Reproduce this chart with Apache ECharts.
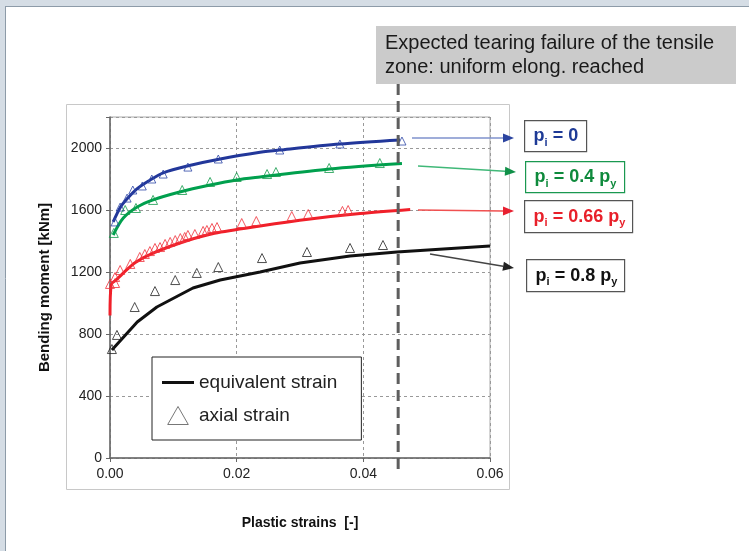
<!DOCTYPE html>
<html>
<head>
<meta charset="utf-8">
<script src="https://cdn.jsdelivr.net/npm/echarts@6/dist/echarts.min.js"></script>
<style>
  html, body { margin: 0; padding: 0; background: #fff; }
  #chart { width: 749px; height: 551px; }
</style>
</head>
<body>
<div id="chart"></div>
<script>
// 等效应变曲线 (equivalent strain) - [plastic strain, moment kNm]
const lineP0 = [[0.0005,1523],[0.0016,1615],[0.0027,1672],[0.0043,1738],[0.0063,1792],[0.0084,1840],[0.0122,1884],[0.0174,1929],[0.0237,1972],[0.0268,1987],[0.0363,2026],[0.0458,2052]];
const lineP04 = [[0.0005,1439],[0.0021,1548],[0.0043,1619],[0.0068,1665],[0.011,1716],[0.0158,1761],[0.02,1794],[0.0237,1813],[0.0347,1865],[0.0461,1900]];
const lineP066 = [[0,920],[0.0002,1120],[0.001,1150],[0.002,1190],[0.004,1262],[0.0068,1322],[0.012,1400],[0.0165,1450],[0.0237,1497],[0.0316,1542],[0.0395,1577],[0.0474,1603]];
const lineP08 = [[0.0003,697],[0.0043,877],[0.0074,974],[0.0131,1097],[0.0174,1148],[0.0237,1200],[0.03,1258],[0.0379,1303],[0.0453,1329],[0.06,1368]];

// 轴向应变点 (axial strain)
const triP0 = [[0.0008,1523],[0.0016,1619],[0.0027,1677],[0.0036,1729],[0.0051,1755],[0.0066,1800],[0.0084,1832],[0.0123,1877],[0.0171,1929],[0.0268,1987],[0.0363,2026],[0.0461,2045]];
const triP04 = [[0.0006,1452],[0.0024,1600],[0.0041,1613],[0.0068,1665],[0.0114,1729],[0.0158,1781],[0.02,1813],[0.0248,1832],[0.0262,1845],[0.0346,1871],[0.0426,1903]];
const triP066 = [[0,1123],[0.0008,1129],[0.0008,1168],[0.0016,1213],[0.0032,1252],[0.0047,1297],[0.0055,1316],[0.0063,1335],[0.0071,1355],[0.0079,1361],[0.0087,1381],[0.0095,1394],[0.0103,1406],[0.0111,1419],[0.0118,1426],[0.0123,1439],[0.0134,1445],[0.0147,1465],[0.0153,1471],[0.0161,1484],[0.0169,1490],[0.0208,1516],[0.0231,1529],[0.0287,1561],[0.0313,1574],[0.0367,1594],[0.0376,1600]];
const triP08 = [[0.0003,703],[0.0011,794],[0.0039,974],[0.0071,1077],[0.0103,1148],[0.0137,1194],[0.0171,1232],[0.024,1290],[0.0311,1329],[0.0379,1355],[0.0431,1374]];

const tearStrain = 0.0455;
const yTicks = [0, 400, 800, 1200, 1600, 2000];

const FONT = '"Liberation Sans", Arial, sans-serif';
const myChart = echarts.init(document.getElementById('chart'));

function lineSeries(data, color, smooth) {
    return {
        name: 'equivalent strain', type: 'line', data: data, symbol: 'none',
        smooth: smooth, lineStyle: { color: color, width: 3 }, itemStyle: { color: color },
        z: 3, silent: true
    };
}
function triSeries(data, color, size) {
    return {
        name: 'axial strain', type: 'scatter', data: data, symbol: 'triangle', symbolSize: size,
        itemStyle: { color: 'rgba(255,255,255,0)', borderColor: color, borderWidth: 1 },
        z: 4, silent: true
    };
}

// 箭头
function arrow(x1, y1, x2, y2, lineColor, headColor) {
    const ang = Math.atan2(y2 - y1, x2 - x1);
    const L = 11, W = 4.5;
    const bx = x2 - L * Math.cos(ang), by = y2 - L * Math.sin(ang);
    const nx = -Math.sin(ang) * W, ny = Math.cos(ang) * W;
    return [
        { type: 'line', shape: { x1: x1, y1: y1, x2: bx, y2: by }, style: { stroke: lineColor, lineWidth: 1.5 }, silent: true },
        { type: 'polygon', shape: { points: [[x2, y2], [bx + nx, by + ny], [bx - nx, by - ny]] }, style: { fill: headColor }, silent: true }
    ];
}
// 标签框 p_i = ...
function labelBox(x, y, w, h, border, color, rest, py) {
    let txt = '{a|p}{s|i}{a|' + rest + '}';
    if (py) txt += '{a|p}{s|y}';
    return {
        type: 'group', left: x, top: y, silent: true,
        children: [
            { type: 'rect', shape: { x: 0, y: 0, width: w, height: h }, style: { fill: '#fff', stroke: border, lineWidth: 1.2 } },
            { type: 'text', x: 9, y: h / 2, style: {
                text: txt, verticalAlign: 'middle',
                rich: {
                    a: { fontFamily: FONT, fontWeight: 'bold', fontSize: 18, fill: color, lineHeight: 24, verticalAlign: 'middle' },
                    s: { fontFamily: FONT, fontWeight: 'bold', fontSize: 11, fill: color, lineHeight: 24, verticalAlign: 'bottom', padding: [9, 0, 0, 0] }
                }
            } }
        ]
    };
}

let option = {
    animation: false,
    backgroundColor: '#fff',
    textStyle: { fontFamily: FONT },
    grid: { left: 110, top: 117, right: 259, bottom: 93, show: true, borderColor: '#aaa', borderWidth: 1 },
    legend: {
        orient: 'vertical', left: 152, top: 357,
        data: [
            { name: 'equivalent strain', icon: 'path://M0,0 L32,0 L32,3 L0,3 Z',
              itemStyle: { color: '#111', borderWidth: 0 } },
            { name: 'axial strain', icon: 'path://M8,0 L16,14 L0,14 Z',
              itemStyle: { color: 'rgba(255,255,255,0)', borderColor: '#555', borderWidth: 1 } }
        ],
        backgroundColor: '#fff', borderColor: '#222', borderWidth: 1,
        padding: [16, 24, 15, 10], itemGap: 14, itemWidth: 32, itemHeight: 18,
        textStyle: { fontFamily: FONT, fontSize: 19, color: '#222' },
        selectedMode: false
    },
    xAxis: {
        type: 'value', min: 0, max: 0.06, interval: 0.02,
        name: 'Plastic strains  [-]', nameLocation: 'middle', nameGap: 58,
        nameTextStyle: { fontFamily: FONT, fontSize: 14, fontWeight: 'bold', color: '#111' },
        axisLine: { lineStyle: { color: '#666', width: 1.5 } },
        axisTick: { show: true, length: 4, inside: false, lineStyle: { color: '#666' } },
        axisLabel: { fontFamily: FONT, fontSize: 14, color: '#222', margin: 9,
            formatter: function (v) { return v.toFixed(2); } },
        splitLine: { show: true, lineStyle: { color: '#999', type: [3, 3], width: 1 } }
    },
    yAxis: {
        type: 'value', min: 0, max: 2200, interval: 400,
        name: 'Bending moment [kNm]', nameLocation: 'middle', nameGap: 58,
        nameTextStyle: { fontFamily: FONT, fontSize: 15, fontWeight: 'bold', color: '#111' },
        axisLine: { show: true, lineStyle: { color: '#666', width: 1.5 } },
        axisTick: { show: true, length: 4, lineStyle: { color: '#666' } },
        axisLabel: { fontFamily: FONT, fontSize: 14, color: '#222', margin: 8,
            formatter: function (v) { return yTicks.indexOf(v) >= 0 ? String(v) : ''; } },
        splitLine: { show: true, lineStyle: { color: '#999', type: [3, 3], width: 1 } }
    },
    series: [
        lineSeries(lineP08, '#111', false),
        triSeries(triP08, '#222', 9),
        lineSeries(lineP0, '#22379a', 0.3),
        triSeries(triP0, '#3048a8', 8),
        lineSeries(lineP04, '#00a04e', 0.3),
        triSeries(triP04, '#129a4a', 9),
        lineSeries(lineP066, '#f0202a', 0.3),
        triSeries(triP066, '#f0303a', 9)
    ]
};
myChart.setOption(option);

// 撕裂失效竖线 + 注释
const tearX = myChart.convertToPixel({ xAxisIndex: 0 }, tearStrain);
let graphics = [
    { type: 'rect', shape: { x: 0, y: 0, width: 749, height: 6 }, style: { fill: '#d5dde5' }, silent: true },
    { type: 'rect', shape: { x: 0, y: 0, width: 5, height: 551 }, style: { fill: '#d5dde5' }, silent: true },
    { type: 'line', shape: { x1: 5.5, y1: 6, x2: 5.5, y2: 551 }, style: { stroke: '#8d9ba8', lineWidth: 1 }, silent: true },
    { type: 'line', shape: { x1: 5, y1: 6.5, x2: 749, y2: 6.5 }, style: { stroke: '#8d9ba8', lineWidth: 1 }, silent: true },
    { type: 'rect', z: -1, shape: { x: 66.5, y: 104.5, width: 443, height: 385 }, style: { fill: 'none', stroke: '#c8c8c8', lineWidth: 1 }, silent: true },
    { type: 'line', z: 10, shape: { x1: tearX, y1: 84, x2: tearX, y2: 470 }, style: { stroke: '#5e5e5e', lineWidth: 3, lineDash: [11, 6] }, silent: true },
    { type: 'rect', z: 10, shape: { x: 376, y: 26, width: 360, height: 58 }, style: { fill: '#cbcbcb' }, silent: true },
    { type: 'text', z: 11, x: 385, y: 31, style: { text: 'Expected tearing failure of the tensile\nzone: uniform elong. reached',
        fontFamily: FONT, fontSize: 20, lineHeight: 24, fill: '#1a1a1a' }, silent: true },
    labelBox(524, 120, 62, 31, '#555', '#1e3a96', ' = 0', false),
    labelBox(525, 161, 99, 31, '#1a9850', '#0e8a3c', ' = 0.4 ', true),
    labelBox(524, 200, 108, 32, '#555', '#e8202a', ' = 0.66 ', true),
    labelBox(526, 259, 98, 32, '#555', '#111', ' = 0.8 ', true)
];
graphics = graphics
    .concat(arrow(412, 138, 514, 138, '#7f92cc', '#2b44a0'))
    .concat(arrow(418, 166, 516, 172, '#40b878', '#109048'))
    .concat(arrow(418, 210, 514, 211, '#f05050', '#e82030'))
    .concat(arrow(430, 254, 514, 268, '#444', '#222'));
myChart.setOption({ graphic: graphics });
</script>
</body>
</html>
